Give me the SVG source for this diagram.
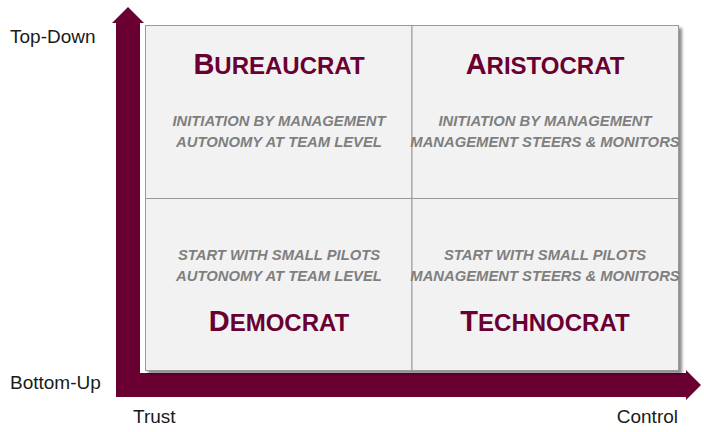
<svg xmlns="http://www.w3.org/2000/svg" width="704" height="432" viewBox="0 0 704 432">
<style>
.axis{font-family:"Liberation Sans",Arial,sans-serif;font-size:19px;fill:#1a1a1a}
.title{font-family:"Liberation Sans",Arial,sans-serif;font-weight:bold;fill:#6a0032;text-anchor:middle}
.big{font-size:29px}
.sm{font-size:24px}
.desc{font-family:"Liberation Sans",Arial,sans-serif;font-weight:bold;font-style:italic;font-size:14.8px;fill:#7f7f7f;text-anchor:middle}
.cell{fill:#f2f2f2;stroke:#999999;stroke-width:1}
</style>
<defs>
<filter id="sh" x="-5%" y="-5%" width="112%" height="112%">
<feDropShadow dx="3" dy="3" stdDeviation="1.5" flood-color="#000000" flood-opacity="0.45"/>
</filter>
</defs>
<rect width="704" height="432" fill="#ffffff"/>
<g id="connectors">
<path d="M128,7 L144,23 L140,23 L140,373 L686,373 L686,370 L701,385 L686,400 L686,397 L116,397 L116,23 L112,23 Z" fill="#6a0032"/>
</g>
<g id="grid">
<rect x="145.5" y="25.5" width="533" height="345" class="cell" filter="url(#sh)"/>
</g>
<g id="bureaucrat">
<rect x="145.5" y="25.5" width="266.5" height="173" class="cell"/>
<text class="title" x="279" y="74"><tspan class="big">B</tspan><tspan class="sm">UREAUCRAT</tspan></text>
<text class="desc" x="279" y="126">INITIATION BY MANAGEMENT</text>
<text class="desc" x="279" y="147">AUTONOMY AT TEAM LEVEL</text>
</g>
<g id="aristocrat">
<rect x="412" y="25.5" width="266.5" height="173" class="cell"/>
<text class="title" x="545" y="74"><tspan class="big">A</tspan><tspan class="sm">RISTOCRAT</tspan></text>
<text class="desc" x="545" y="126">INITIATION BY MANAGEMENT</text>
<text class="desc" x="545" y="147">MANAGEMENT STEERS &amp; MONITORS</text>
</g>
<g id="democrat">
<rect x="145.5" y="198.5" width="266.5" height="172" class="cell"/>
<text class="desc" x="279" y="260">START WITH SMALL PILOTS</text>
<text class="desc" x="279" y="281">AUTONOMY AT TEAM LEVEL</text>
<text class="title" x="279" y="331"><tspan class="big">D</tspan><tspan class="sm">EMOCRAT</tspan></text>
</g>
<g id="technocrat">
<rect x="412" y="198.5" width="266.5" height="172" class="cell"/>
<text class="desc" x="545" y="260">START WITH SMALL PILOTS</text>
<text class="desc" x="545" y="281">MANAGEMENT STEERS &amp; MONITORS</text>
<text class="title" x="545" y="331"><tspan class="big">T</tspan><tspan class="sm">ECHNOCRAT</tspan></text>
</g>
<g id="labels">
<text class="axis" x="10" y="43">Top-Down</text>
<text class="axis" x="10" y="389">Bottom-Up</text>
<text class="axis" x="133" y="423">Trust</text>
<text class="axis" x="678" y="423" text-anchor="end">Control</text>
</g>
</svg>
